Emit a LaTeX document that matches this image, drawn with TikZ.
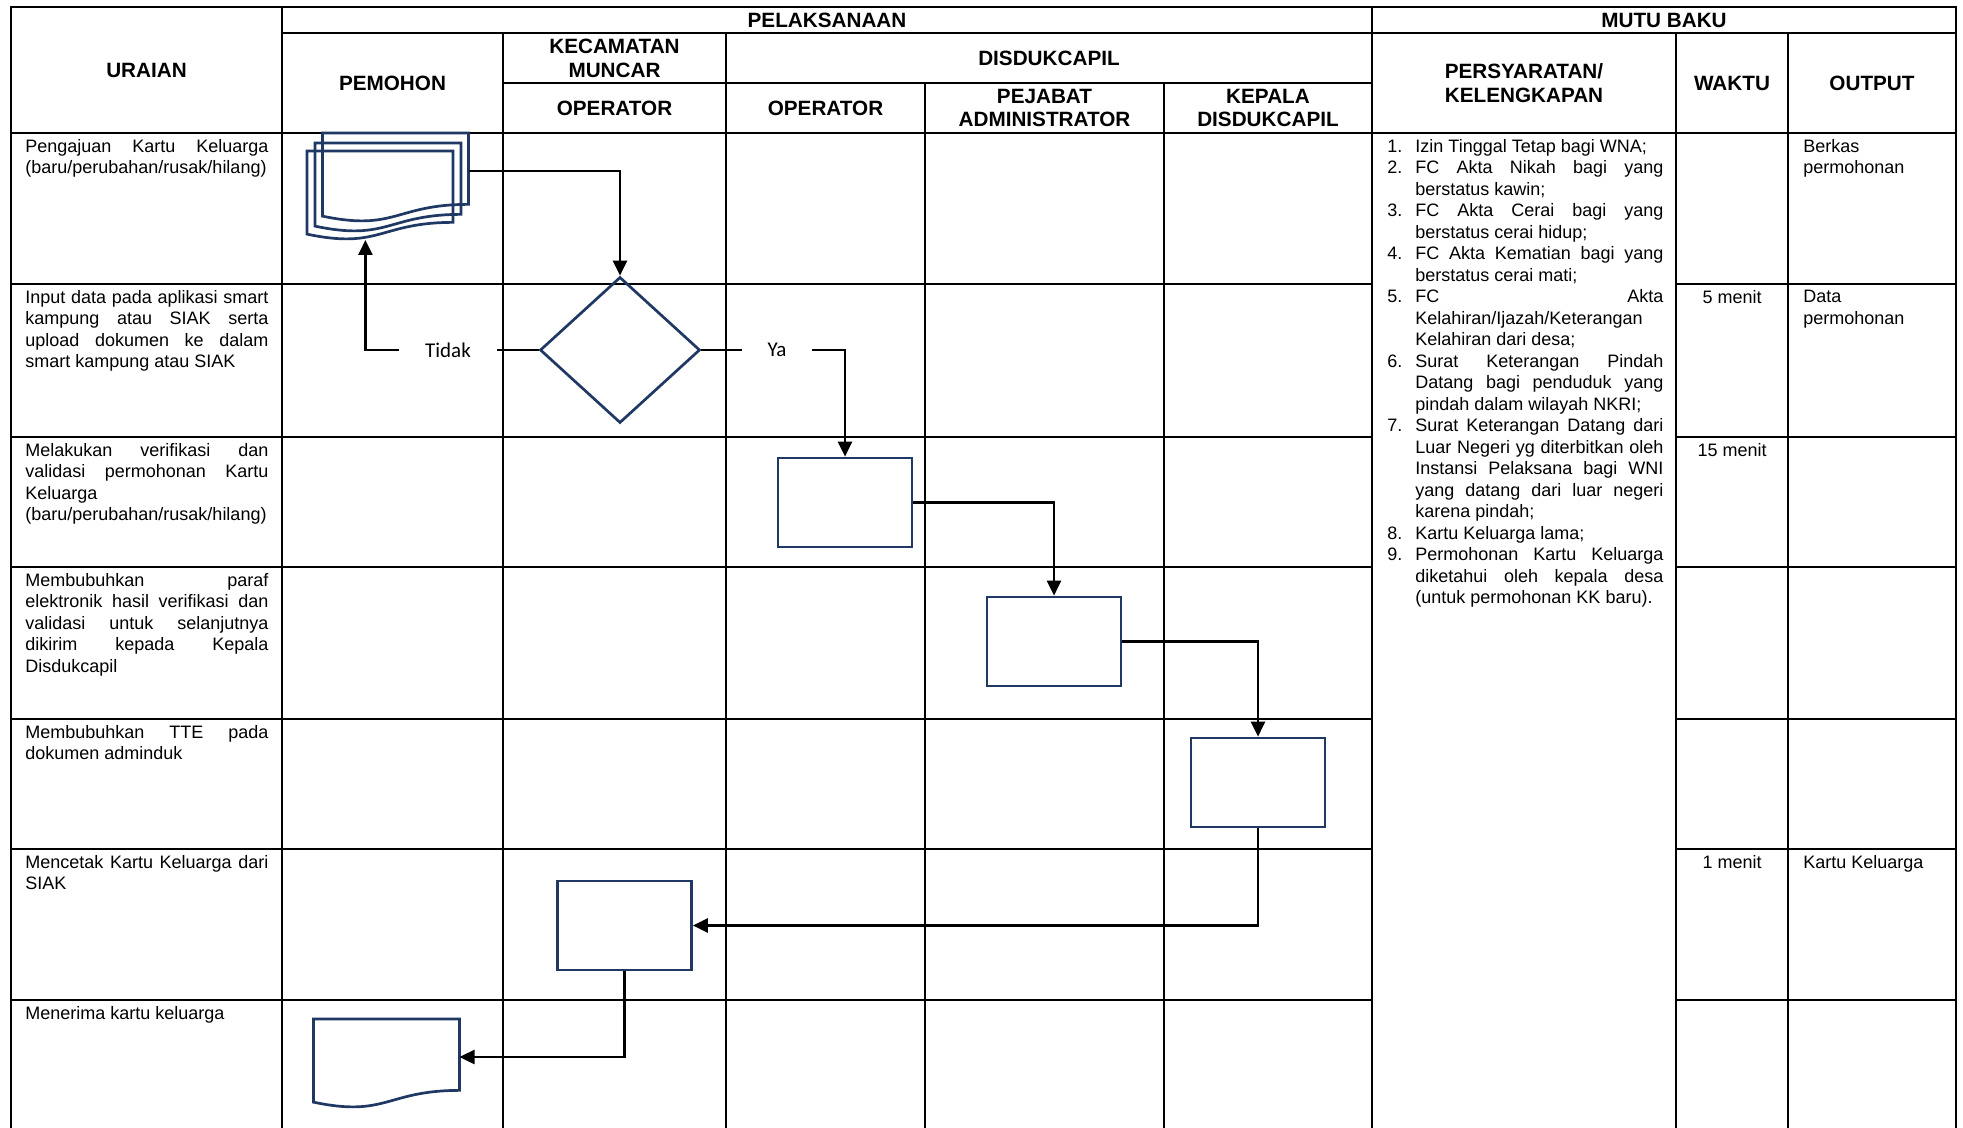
\documentclass[tikz,border=0pt]{standalone}
\usepackage{fontspec}
\setmainfont{Liberation Sans}
\newfontfamily\lblfont{Carlito}
\usepackage{xcolor}
\usetikzlibrary{arrows.meta,calc,positioning,shapes.geometric}
\definecolor{garisbiru}{HTML}{1F3864}
\tolerance=10000
\hbadness=10000
\hyphenpenalty=10000
\exhyphenpenalty=10000

\newcommand{\lembar}[1]{%
  \draw [garisbiru, line width=1.35pt, line join=miter]
    (#1.north west) -- (#1.north east) -- ($(#1.north east)!0.802!(#1.south east)$)
    .. controls ($(#1.north)!0.802!(#1.south)$) and ($(#1.north)!1.108!(#1.south)$)
    .. ($(#1.north west)!0.934!(#1.south west)$) -- cycle;}
\newcommand{\butir}[2]{\hangindent=14pt\hangafter=1\noindent\makebox[14pt][l]{#1.}#2\par}

\tikzset{
  tabel/.style={black, line width=1.1pt, line cap=rect},
  judul/.style={font=\fontsize{10.35pt}{11.9pt}\selectfont\bfseries, align=center, inner sep=0pt},
  isi/.style={font=\fontsize{9pt}{10.75pt}\selectfont, inner sep=0pt, anchor=north west},
  uraian/.style={isi, text width=121.5pt, align=justify},
  proses/.style={draw=garisbiru, line width=1.35pt, minimum width=67pt, minimum height=44.5pt, inner sep=0pt},
  putusan/.style={diamond, draw=garisbiru, line width=1.35pt, minimum width=80pt, minimum height=73pt, inner sep=0pt},
  dokumen/.style={minimum width=73pt, minimum height=44.5pt, inner sep=0pt, outer sep=0pt},
  alur/.style={black, line width=1.25pt, -{Triangle[length=7.5pt,width=7pt]}},
  garis/.style={black, line width=1.25pt},
  ket/.style={font=\lblfont\fontsize{10.5pt}{12pt}\selectfont, inner xsep=12.75pt, inner ysep=0pt}
}

\begin{document}
\begin{tikzpicture}[x=0.5pt,y=-0.5pt]
\fill [white] (0,0) rectangle (1963,1128);
\useasboundingbox (0,0) rectangle (1963,1128);

% tabel
\foreach \x in {11,282,1372,1956}
  \draw [tabel] (\x,7) -- (\x,1128);
\foreach \x in {503,726,1676,1788}
  \draw [tabel] (\x,33) -- (\x,1128);
\foreach \x in {925,1164}
  \draw [tabel] (\x,83) -- (\x,1128);
\draw [tabel] (11,7) -- (1956,7);
\draw [tabel] (282,33) -- (1956,33);
\draw [tabel] (503,83) -- (1372,83);
\draw [tabel] (11,133) -- (1956,133);
\foreach \y in {284,437,567,719,849,1000} {
  \draw [tabel] (11,\y) -- (1372,\y);
  \draw [tabel] (1676,\y) -- (1956,\y);
}

\node [judul] (uraian) at (146.5,70) {URAIAN};
\node [judul] (pelaksanaan) at (827,20) {PELAKSANAAN};
\node [judul] (mutubaku) at (1664,20) {MUTU BAKU};
\node [judul] (pemohon) at (392.5,83) {PEMOHON};
\node [judul] (kecamatan) at (614.5,58) {KECAMATAN\\MUNCAR};
\node [judul] (disdukcapil) at (1049,58) {DISDUKCAPIL};
\node [judul] (opkec) at (614.5,108) {OPERATOR};
\node [judul] (opdis) at (825.5,108) {OPERATOR};
\node [judul] (pejabat) at (1044.5,108) {PEJABAT\\ADMINISTRATOR};
\node [judul] (kepala) at (1268,108) {KEPALA\\DISDUKCAPIL};
\node [judul] (persyaratan) at (1524,83) {PERSYARATAN/\\KELENGKAPAN};
\node [judul] (waktu) at (1732,83) {WAKTU};
\node [judul] (output) at (1872,83) {OUTPUT};

\node [uraian] (u1) at (25,139) {Pengajuan Kartu Keluarga\break (baru/perubahan/rusak/hilang)};
\node [uraian] (u2) at (25,290) {Input data pada aplikasi smart\break kampung atau SIAK serta\break upload dokumen ke dalam\break smart kampung atau SIAK};
\node [uraian] (u3) at (25,443) {Melakukan verifikasi dan\break validasi permohonan Kartu\break Keluarga\hfil\break (baru/perubahan/rusak/hilang)};
\node [uraian] (u4) at (25,573) {Membubuhkan paraf\break elektronik hasil verifikasi dan\break validasi untuk selanjutnya\break dikirim kepada Kepala\break Disdukcapil};
\node [uraian] (u5) at (25,725) {Membubuhkan TTE pada\break dokumen adminduk};
\node [uraian] (u6) at (25,855) {Mencetak Kartu Keluarga dari\break SIAK};
\node [uraian] (u7) at (25,1006) {Menerima kartu keluarga};

\node [isi, text width=138pt, align=justify] (syarat) at (1387,139) {%
  \butir{1}{Izin Tinggal Tetap bagi WNA;}%
  \butir{2}{FC Akta Nikah bagi yang\break berstatus kawin;}%
  \butir{3}{FC Akta Cerai bagi yang\break berstatus cerai hidup;}%
  \butir{4}{FC Akta Kematian bagi yang\break berstatus cerai mati;}%
  \butir{5}{FC Akta\break Kelahiran/Ijazah/Keterangan\hfil\break Kelahiran dari desa;}%
  \butir{6}{Surat Keterangan Pindah\break Datang bagi penduduk yang\break pindah dalam wilayah NKRI;}%
  \butir{7}{Surat Keterangan Datang dari\break Luar Negeri yg diterbitkan oleh\break Instansi Pelaksana bagi WNI\break yang datang dari luar negeri\break karena pindah;}%
  \butir{8}{Kartu Keluarga lama;}%
  \butir{9}{Permohonan Kartu Keluarga\break diketahui oleh kepala desa\break (untuk permohonan KK baru).}};

\node [isi, anchor=north] (w2) at (1732,290) {5 menit};
\node [isi, anchor=north] (w3) at (1732,443) {15 menit};
\node [isi, anchor=north] (w6) at (1732,855) {1 menit};
\node [isi, align=left] (o1) at (1803,139) {Berkas\\permohonan};
\node [isi, align=left] (o2) at (1803,290) {Data\\permohonan};
\node [isi, align=left] (o6) at (1803,855) {Kartu Keluarga};

% bagan alir
\node [dokumen] (lembar3) at (395.5,177.5) {};
\node [dokumen] (lembar2) at (388,187.5) {};
\node [dokumen] (lembar1) at (380,195.5) {};
\lembar{lembar3}
\lembar{lembar2}
\lembar{lembar1}
\node [putusan] (cek) at (620,350) {};
\node [ket] (tidak) at (448,350) {Tidak};
\node [ket] (ya) at (777,350) {Ya};
\node [proses] (verif) at (845,502.5) {};
\node [proses] (paraf) at (1054,641.5) {};
\node [proses] (tte) at (1258,782.5) {};
\node [proses] (cetak) at (624.5,925.5) {};
\node [dokumen] (terima) at (386.5,1063.5) {};
\lembar{terima}

\draw [alur] ($(lembar3.north east)+(0,38)$) -| (cek.north);
\draw [garis] (cek.west) -- (tidak.east);
\draw [alur] (tidak.west) -| ($(lembar1.south west)!0.4!(lembar1.south east)$);
\draw [garis] (cek.east) -- (ya.west);
\draw [alur] (ya.east) -| (verif.north);
\draw [alur] (verif.east) -| (paraf.north);
\draw [alur] (paraf.east) -| (tte.north);
\draw [alur] (tte.south) |- (cetak.east);
\draw [alur] (cetak.south) |- ($(terima.north east)+(0,38)$);
\end{tikzpicture}
\end{document}
